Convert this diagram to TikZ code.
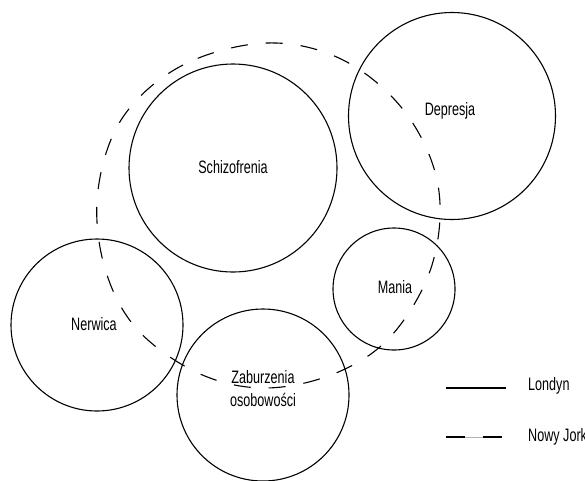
\documentclass[tikz,border=0pt]{standalone}
\usepackage{fontspec}
\setmainfont{Liberation Sans}[FakeStretch=0.7]
\begin{document}
\begin{tikzpicture}[x=1pt,y=-1pt,
  circ/.style={draw=black,line width=1.1pt,circle,inner sep=0pt},
  lab/.style={font=\fontsize{18}{23}\selectfont,inner sep=0pt,align=center,text=black},
  nyline/.style={draw=black,line width=1.1pt,dash pattern=on 17pt off 18pt},
  ldline/.style={draw=black,line width=1.1pt}]
\useasboundingbox (0,0) rectangle (585,480);
% circles
\node[circ,minimum size=208pt] (schC) at (233,168) {};
\node[circ,minimum size=207pt] (depC) at (452,116) {};
\node[circ,minimum size=122pt] (manC) at (394,289) {};
\node[circ,minimum size=172pt] (nerC) at (97,325) {};
\node[circ,minimum size=172pt] (zabC) at (263,395) {};
% labels
\node[lab] (schT) at (233,167) {Schizofrenia};
\node[lab] (depT) at (450,111) {Depresja};
\node[lab] (manT) at (395,287) {Mania};
\node[lab] (nerT) at (94,324) {Nerwica};
\node[lab] (zabT) at (263,389) {Zaburzenia\\osobowości};
% New York curve
\draw[nyline] plot[smooth cycle,tension=0.6] coordinates {
 (267,43) (183,65) (123,117) (98,190) (104,265) (136,328) (198,373)
 (265,388) (336,373) (392,335) (432,265) (438,185) (405,112) (343,60)};
% legend
\coordinate (l1a) at (446,388);
\coordinate (l1b) at (506,388);
\coordinate (l2a) at (446,437);
\coordinate (l2b) at (502,437);
\draw[ldline] (l1a) -- (l1b);
\draw[gray!60,line width=0.4pt] (l2a) -- (l2b);
\draw[ldline,dash pattern=on 19pt off 18pt] (l2a) -- (l2b);
\node[lab,anchor=west] (lonT) at (528,386) {Londyn};
\node[lab,anchor=west] (nyT) at (528,437) {Nowy Jork};
\end{tikzpicture}
\end{document}
